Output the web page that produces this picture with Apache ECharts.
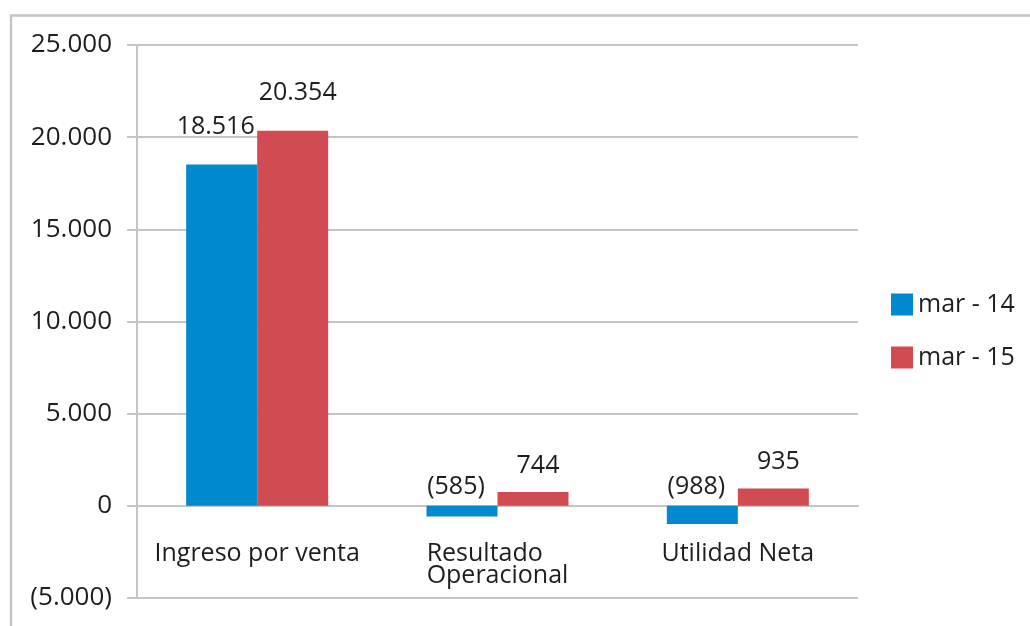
<!DOCTYPE html>
<html>
<head>
<meta charset="utf-8">
<script src="https://cdn.jsdelivr.net/npm/echarts@6/dist/echarts.min.js"></script>
<style>
html, body { margin: 0; padding: 0; background: #fff; }
#main { width: 1030px; height: 626px; }
</style>
</head>
<body>
<div id="main"></div>
<script>
// datos
var categorias = ['Ingreso por venta', 'Resultado\nOperacional', 'Utilidad Neta'];
var series = ['mar - 14', 'mar - 15'];
var mar14 = [18516, -585, -988];
var mar15 = [20354, 744, 935];

var colores = ['#0089cf', '#d14b53'];
var gris = '#c4c4c4';
var fuente = '"Open Sans", "Noto Sans", sans-serif';

// 18516 -> 18.516 ; -585 -> (585)
function formato(v) {
    var s = String(Math.abs(v)).replace(/\B(?=(\d{3})+(?!\d))/g, '.');
    return v < 0 ? '(' + s + ')' : s;
}

function armar(valores, dx) {
    return valores.map(function (v) {
        return {
            value: v,
            label: {
                distance: v < 0 ? 6 : (v > 5000 ? 25 : 14),
                offset: [dx, 0]
            }
        };
    });
}

var dom = document.getElementById('main');
var myChart = echarts.init(dom);
var option = {
    animation: false,
    textStyle: { fontFamily: fuente },
    graphic: [{
        type: 'polyline',
        shape: { points: [[11, 700], [11, 15.5], [1040, 15.5]] },
        style: { stroke: gris, lineWidth: 2.5, fill: null }
    }],
    grid: { left: 137, right: 172, top: 45, bottom: 28, containLabel: false, outerBoundsMode: 'none' },
    legend: {
        orient: 'vertical',
        left: 886,
        top: 287,
        itemWidth: 22,
        itemHeight: 22,
        itemGap: 28,
        icon: 'rect',
        textStyle: { fontSize: 25, color: '#1e1e1e', fontFamily: fuente },
        data: series
    },
    xAxis: {
        type: 'category',
        data: categorias,
        axisLine: { show: true, onZero: true, lineStyle: { color: gris, width: 2 } },
        axisTick: { show: false },
        axisLabel: {
            interval: 0,
            margin: -55,
            fontSize: 25,
            lineHeight: 22,
            color: '#1e1e1e',
            fontFamily: fuente,
            // lineas alineadas a la izquierda dentro del bloque
            formatter: function (v) {
                return v.split('\n').map(function (l) { return '{a|' + l + '}'; }).join('\n');
            },
            rich: {
                a: { align: 'left', fontSize: 25, lineHeight: 22, color: '#1e1e1e', fontFamily: fuente }
            }
        }
    },
    yAxis: {
        type: 'value',
        min: -5000,
        max: 25000,
        interval: 5000,
        axisLine: { show: true, lineStyle: { color: gris, width: 2 } },
        axisTick: { show: true, length: 10, lineStyle: { color: gris, width: 2 } },
        splitLine: { lineStyle: { color: gris, width: 2 } },
        axisLabel: {
            margin: 25,
            fontSize: 26,
            color: '#1e1e1e',
            fontFamily: fuente,
            formatter: formato
        }
    },
    series: [{
        name: series[0],
        type: 'bar',
        data: armar(mar14, -6),
        barWidth: 71,
        barGap: '0%',
        itemStyle: { color: colores[0] },
        label: {
            show: true,
            position: 'top',
            fontSize: 25,
            color: '#1e1e1e',
            fontFamily: fuente,
            formatter: function (p) { return formato(p.value); }
        }
    }, {
        name: series[1],
        type: 'bar',
        data: armar(mar15, 5),
        barWidth: 71,
        barGap: '0%',
        itemStyle: { color: colores[1] },
        label: {
            show: true,
            position: 'top',
            fontSize: 25,
            color: '#1e1e1e',
            fontFamily: fuente,
            formatter: function (p) { return formato(p.value); }
        }
    }]
};
if (option && typeof option === "object") {
    myChart.setOption(option, true);
}
</script>
</body>
</html>
